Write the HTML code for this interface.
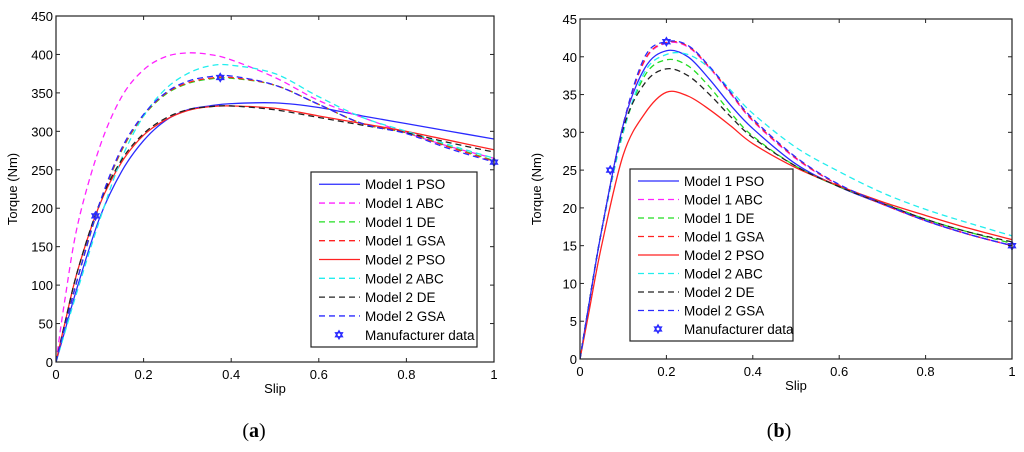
<!DOCTYPE html>
<html><head><meta charset="utf-8"><style>
body{margin:0;background:#fff;width:1024px;height:447px;overflow:hidden}
svg{font-family:"Liberation Sans",Arial,sans-serif}
</style></head><body>
<svg id="s" width="1024" height="447">
<text x="254" y="437" text-anchor="middle" font-family="Liberation Serif,serif" font-size="20">(<tspan font-weight="bold">a</tspan>)</text>
<text x="779" y="437" text-anchor="middle" font-family="Liberation Serif,serif" font-size="20">(<tspan font-weight="bold">b</tspan>)</text>
</svg>
<script>
const slip=[0,0.02,0.05,0.1,0.15,0.2,0.25,0.3,0.35,0.4,0.5,0.6,0.7,0.8,0.9,1.0];
const seriesNames=["Model 1 PSO","Model 1 ABC","Model 1 DE","Model 1 GSA","Model 2 PSO","Model 2 ABC","Model 2 DE","Model 2 GSA"];
const aM1PSO=[0,40,100,188,248,288,314,328,333,336,337,331,320,310,300,290];
const aM1ABC=[0,80,180,280,345,380,397,402,400,393,370,340,318,298,280,265];
const aM1DE=[0,45,110,205,275,320,348,362,368,369,360,335,310,298,280,262];
const aM1GSA=[0,45,110,206,276,321,349,363,369,370,360,335,310,298,279,261];
const aM2PSO=[0,50,120,205,260,295,315,327,332,333,330,320,310,300,288,276];
const aM2ABC=[0,38,95,185,265,320,355,375,385,386,375,345,318,300,282,265];
const aM2DE=[0,50,120,207,263,297,317,328,332,333,328,318,308,298,285,273];
const aM2GSA=[0,45,110,207,278,322,350,365,371,372,360,335,310,297,277,260];
const aMfgX=[0.09,0.375,1];
const aMfgY=[190,370,260];
const bM1PSO=[0,7,17,31,38.5,40.8,40,37,33.5,30.5,25.8,22.8,20.5,18.3,16.5,15];
const bM1ABC=[0,7,17,31,39.5,41.8,41.3,38.5,35,31.5,26.5,23,20.5,18.3,16.5,15];
const bM1DE=[0,7,17,30,37.5,39.6,38.8,36,32.5,29.5,25.5,22.8,20.7,18.5,16.8,15.3];
const bM1GSA=[0,7,17,31,39.6,41.9,41.4,38.6,35.1,31.6,26.6,23,20.5,18.3,16.5,15];
const bM2PSO=[0,6,15,27,32.5,35.3,34.8,33,30.8,28.5,25.3,22.9,20.8,19,17.3,15.8];
const bM2ABC=[0,7,17,30,38,40.3,40.3,38.5,35.5,32.5,28,24.8,22,19.8,18,16.3];
const bM2DE=[0,7,17,30.5,36.5,38.4,37.5,35,32,29.3,25.5,22.8,20.6,18.5,16.8,15.5];
const bM2GSA=[0,7,17,31,40,42,41.5,38.7,35.2,31.8,26.7,23.1,20.6,18.3,16.5,15];
const bMfgX=[0.07,0.2,1];
const bMfgY=[25,42,15];
const xTicks=[0,0.2,0.4,0.6,0.8,1];
const xTickLabels=["0","0.2","0.4","0.6","0.8","1"];
const aYTicks=[0,50,100,150,200,250,300,350,400,450];
const bYTicks=[0,5,10,15,20,25,30,35,40,45];

const styles=[["#2a2aff",""],["#ff22ff","6,4"],["#22dd22","6,4"],["#ff2222","6,4"],["#ff2222",""],["#22eeee","6,4"],["#222","6,4"],["#2a2aff","6,4"]];
const NS="http://www.w3.org/2000/svg";
const svg=document.getElementById('s');
function mk(t,a,p){const e=document.createElementNS(NS,t);for(const k in a)e.setAttribute(k,a[k]);(p||svg).appendChild(e);return e;}
function star(g,cx,cy){const pts=[];for(let i=0;i<6;i++){const a=Math.PI/2+i*Math.PI/3;pts.push([cx+4*Math.cos(a),cy-4*Math.sin(a)]);}
 mk('polygon',{points:[pts[0],pts[2],pts[4]].join(' '),fill:'none',stroke:'#2a2aff','stroke-width':1.3},g);
 mk('polygon',{points:[pts[1],pts[3],pts[5]].join(' '),fill:'none',stroke:'#2a2aff','stroke-width':1.3},g);}
function chart(id,L,R,T,B,ymax,yTicks,data,mx,my,leg){
 const g=mk('g',{});
 
 
 const X=v=>L+v*(R-L), Y=v=>B-v/ymax*(B-T);
 const cp=mk('clipPath',{id:id+'c'},g);mk('rect',{x:L,y:T,width:R-L,height:B-T},cp);
 data.forEach((d,si)=>{
  const p=slip.map((s,i)=>[X(s),Y(d[i])]);
  let dd='M'+p[0][0]+','+p[0][1];
  for(let i=0;i<p.length-1;i++){const p0=p[Math.max(0,i-1)],p1=p[i],p2=p[i+1],p3=p[Math.min(p.length-1,i+2)];
   dd+=` C${p1[0]+(p2[0]-p0[0])/6},${p1[1]+(p2[1]-p0[1])/6} ${p2[0]-(p3[0]-p1[0])/6},${p2[1]-(p3[1]-p1[1])/6} ${p2[0]},${p2[1]}`;}
  const l=mk('path',{d:dd,fill:'none',stroke:styles[si][0],'stroke-width':1.3,'stroke-dasharray':styles[si][1],'clip-path':`url(#${id}c)`},g);
  
  
 });
 mx.forEach((x,i)=>star(g,X(x),Y(my[i])));
 mk('rect',{x:L,y:T,width:R-L,height:B-T,fill:'none',stroke:'#222','stroke-width':1.2},g);
 xTicks.forEach((t,i)=>{const x=X(t);mk('line',{x1:x,x2:x,y1:B,y2:B-4,stroke:'#222'},g);mk('line',{x1:x,x2:x,y1:T,y2:T+4,stroke:'#222'},g);
  const tx=mk('text',{x:x,y:B+17,'text-anchor':'middle','font-size':13},g);tx.textContent=xTickLabels[i];
  
  });
 yTicks.forEach(t=>{const y=Y(t);mk('line',{x1:L,x2:L+4,y1:y,y2:y,stroke:'#222'},g);mk('line',{x1:R,x2:R-4,y1:y,y2:y,stroke:'#222'},g);
  const tx=mk('text',{x:L-3,y:y+5,'text-anchor':'end','font-size':13},g);tx.textContent=t;
  
  });
 const xt=mk('text',{x:(L+R)/2,y:B+31,'text-anchor':'middle','font-size':13},g);xt.textContent='Slip';
 
 
 const yt=mk('text',{x:0,y:0,'text-anchor':'middle','font-size':13,transform:`translate(${L-39},${(T+B)/2}) rotate(-90)`},g);yt.textContent='Torque (Nm)';
 
 
 const lg=mk('g',{},g);
 
 
 mk('rect',{x:leg[0],y:leg[1],width:leg[2],height:leg[3],fill:'#fff',stroke:'#222','stroke-width':1.2},lg);
 const step=leg[3]/9.3;
 seriesNames.concat(['Manufacturer data']).forEach((n,i)=>{const y=leg[1]+step*(i+0.65);
  if(i<8)mk('line',{x1:leg[0]+8,x2:leg[0]+49,y1:y,y2:y,stroke:styles[i][0],'stroke-width':1.3,'stroke-dasharray':styles[i][1]},lg);
  else star(lg,leg[0]+28,y);
  const t=mk('text',{x:leg[0]+54,y:y+5,'font-size':13.5},lg);t.textContent=n;
  
  });
}
chart('chart-a',56,494,16,362,450,aYTicks,[aM1PSO,aM1ABC,aM1DE,aM1GSA,aM2PSO,aM2ABC,aM2DE,aM2GSA],aMfgX,aMfgY,[311,172,166,175]);
chart('chart-b',580,1012,19,359,45,bYTicks,[bM1PSO,bM1ABC,bM1DE,bM1GSA,bM2PSO,bM2ABC,bM2DE,bM2GSA],bMfgX,bMfgY,[630,169,163,172]);
</script>
</body></html>
